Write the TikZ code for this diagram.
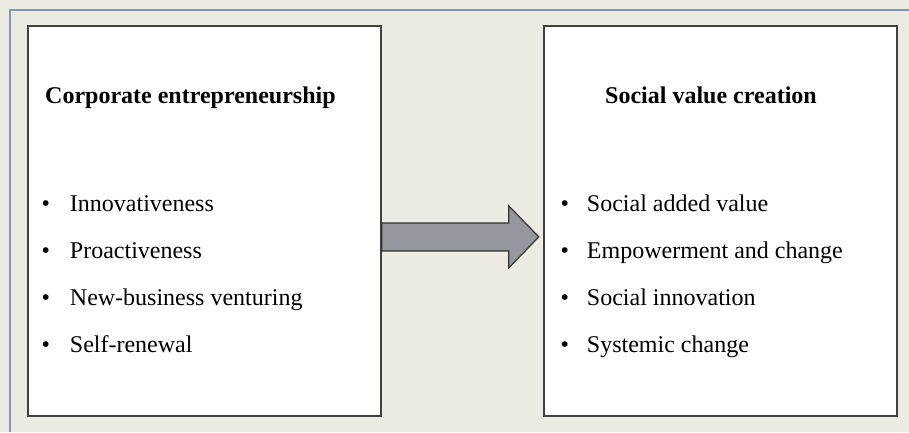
\documentclass[tikz,border=0pt]{standalone}
\usepackage{fontspec}
\setmainfont{Liberation Serif}
\usepackage{tikz}
\usetikzlibrary{positioning}

\definecolor{paper}{RGB}{236,235,226}
\definecolor{frameblue}{RGB}{126,150,184}
\definecolor{arrowgray}{RGB}{150,150,158}

\begin{document}
\begin{tikzpicture}
[x=1pt, y=-1pt,
 box/.style={draw=black!75, line width=1.8pt, fill=white, minimum width=353pt,
   minimum height=390pt, anchor=north west, inner sep=0pt},
 title/.style={font=\fontsize{24}{28}\selectfont\bfseries, anchor=base west, inner sep=0pt},
 item/.style={font=\fontsize{24}{28}\selectfont, anchor=base west, inner sep=0pt,
   text height=17pt, text depth=6pt},
 bigarrow/.style={draw=black!80, line width=1.2pt, fill=arrowgray, line join=miter}]
% page and frame
\fill[paper] (0,0) rectangle (909,432);
\useasboundingbox (0,0) rectangle (909,432);
\draw[frameblue, line width=2pt] (10,432) -- (10,10) -- (909,10);
% the two boxes
\node[box] (lbox) at (27,25) {};
\node[box] (rbox) at (543,25) {};
\node[title] (ltitle) at (45,103) {Corporate entrepreneurship};
\node[title] (rtitle) at (605,103) {Social value creation};
\matrix [row sep=24pt, column sep=20pt, anchor=north west, ampersand replacement=\&]
  (listA) at (38,191)
{\node[item] {•}; \& \node[item] (a1) {Innovativeness}; \\
 \node[item] {•}; \& \node[item] (a2) {Proactiveness}; \\
 \node[item] {•}; \& \node[item] (a3) {New-business venturing}; \\
 \node[item] {•}; \& \node[item] (a4) {Self-renewal}; \\
};
\matrix [row sep=24pt, column sep=18pt, anchor=north west, ampersand replacement=\&]
  (listB) at (557,191)
{\node[item] {•}; \& \node[item] (b1) {Social added value}; \\
 \node[item] {•}; \& \node[item] (b2) {Empowerment and change}; \\
 \node[item] {•}; \& \node[item] (b3) {Social innovation}; \\
 \node[item] {•}; \& \node[item] (b4) {Systemic change}; \\
};
% arrow between the boxes
\draw[bigarrow] (lbox.east) ++(0,2) -- ++(127,0) -- ++(0,-17) -- ++(30,31)
  -- ++(-30,31) -- ++(0,-17) -- ++(-127,0) -- cycle;
\end{tikzpicture}
\end{document}
